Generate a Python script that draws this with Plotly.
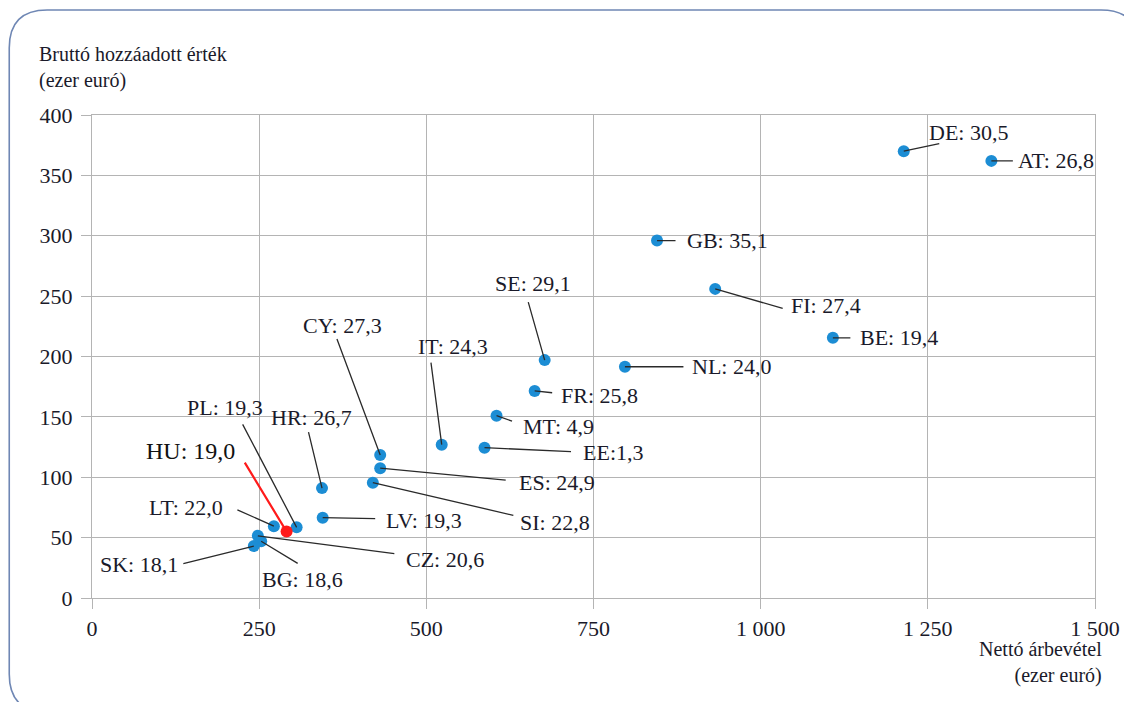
import plotly.graph_objects as go

# ---- data ----
countries = ["DE", "AT", "GB", "FI", "BE", "NL", "SE", "FR", "MT", "EE", "IT",
             "CY", "ES", "SI", "HR", "LV", "PL", "HU", "LT", "CZ", "BG", "SK"]
net_revenue = [1214, 1345, 845, 932, 1108, 797, 677, 662, 605, 587, 523,
               431, 431, 420, 344, 345, 306, 291, 272, 248, 253, 242]
gross_value_added = [370, 362, 296, 256, 215.5, 191.5, 197, 171.5, 151, 124.5, 127,
                     118.5, 107.5, 95.5, 91, 66.5, 58.5, 55, 59.5, 51.5, 47, 43]
label_texts = ["DE: 30,5", "AT: 26,8", "GB: 35,1", "FI: 27,4", "BE: 19,4", "NL: 24,0",
               "SE: 29,1", "FR: 25,8", "MT: 4,9", "EE:1,3", "IT: 24,3", "CY: 27,3",
               "ES: 24,9", "SI: 22,8", "HR: 26,7", "LV: 19,3", "PL: 19,3", "HU: 19,0",
               "LT: 22,0", "CZ: 20,6", "BG: 18,6", "SK: 18,1"]
highlight = "HU"

x_tickvals = [0, 250, 500, 750, 1000, 1250, 1500]
x_ticktext = ["0", "250", "500", "750", "1 000", "1 250", "1 500"]
y_tickvals = [0, 50, 100, 150, 200, 250, 300, 350, 400]

y_title = "Bruttó hozzáadott érték<br>(ezer euró)"
x_title = "Nettó árbevétel<br>(ezer euró)"

# ---- label layout (pixel offsets from point) ----
# (tail_dx, tail_dy, text_dx, text_dy, xanchor)
label_layout = {
    "DE": (37, -8, 65, -19, "center"),
    "AT": (23, 0, 25, 0, "left"),
    "GB": (20, 0, 28, 0, "left"),
    "FI": (69, 20, 74, 17, "left"),
    "BE": (19, 0, 25, 0, "left"),
    "NL": (60, 0, 65, 0, "left"),
    "SE": (-17, -60, -12, -77, "center"),
    "FR": (19, 2, 24, 5, "left"),
    "MT": (17, 6, 24, 11, "left"),
    "EE": (88, 4, 96, 5, "left"),
    "IT": (-11, -84, 11, -98, "center"),
    "CY": (-44, -118, -38, -129, "center"),
    "ES": (127, 12, 137, 14, "left"),
    "SI": (142, 33, 145, 40, "left"),
    "HR": (-14, -58, -11, -71, "center"),
    "LV": (54, 1, 61, 3, "left"),
    "PL": (-55, -105, -72, -120, "center"),
    "HU": (-43, -71, -96, -81, "center"),
    "LT": (-38, -17, -88, -19, "center"),
    "CZ": (138, 18, 146, 24, "left"),
    "BG": (38, 23, 41, 38, "center"),
    "SK": (-72, 18, -74, 18, "right"),
}

OFF = 8  # page body margin
W, H = 1132 - OFF, 702 - OFF
ML, MT_ = 92 - OFF, 115 - OFF
PW, PH = 1006, 483
MR, MB = W - ML - PW, H - MT_ - PH

FONT = "'Liberation Serif', 'DejaVu Serif', serif"
TXT = "#1a1a2a"
BLUE = "#1c8dd4"
RED = "#ff1a1a"
GRID = "#b4b4b4"

colors = [RED if c == highlight else BLUE for c in countries]

fig = go.Figure()
fig.add_trace(go.Scatter(
    x=net_revenue, y=gross_value_added, mode="markers",
    marker=dict(size=12, color=colors, line=dict(width=0)),
    hoverinfo="text", text=countries, showlegend=False, cliponaxis=False,
))

annotations = []
for c, xv, yv, t in zip(countries, net_revenue, gross_value_added, label_texts):
    tdx, tdy, lx, ly, anc = label_layout[c]
    is_hl = c == highlight
    annotations.append(dict(
        x=xv, y=yv, xref="x", yref="y", ax=tdx, ay=tdy, text=" ",
        font=dict(size=1), showarrow=True, arrowhead=0,
        arrowwidth=2.2 if is_hl else 1.3,
        arrowcolor=RED if is_hl else "#2a2a2a", standoff=0, startstandoff=0,
    ))
    annotations.append(dict(
        x=xv, y=yv, xref="x", yref="y", text=t, showarrow=False,
        xshift=lx, yshift=-ly, xanchor=anc, yanchor="middle",
        font=dict(family=FONT, size=24 if is_hl else 22,
                  color="#111111" if is_hl else TXT),
    ))


def pxp(x):
    """screen x pixel -> paper"""
    return (x - OFF - ML) / PW


def pyp(y):
    """screen y pixel -> paper"""
    return (MT_ + PH - (y - OFF)) / PH


annotations.append(dict(
    x=pxp(37), y=pyp(67), xref="paper", yref="paper", xanchor="left",
    yanchor="middle", align="left", showarrow=False, text=y_title,
    font=dict(family=FONT, size=20, color=TXT),
))
annotations.append(dict(
    x=pxp(1107), y=pyp(662), xref="paper", yref="paper", xanchor="right",
    yanchor="middle", align="right", showarrow=False, text=x_title,
    font=dict(family=FONT, size=20, color=TXT),
))

# rounded frame (screen pixel coords)
L, T, R, B, r = 9, 10, 1142, 712, 38
path = (
    f"M {pxp(L + r)} {pyp(T)} L {pxp(R - r)} {pyp(T)} "
    f"Q {pxp(R)} {pyp(T)} {pxp(R)} {pyp(T + r)} "
    f"L {pxp(R)} {pyp(B - r)} Q {pxp(R)} {pyp(B)} {pxp(R - r)} {pyp(B)} "
    f"L {pxp(L + r)} {pyp(B)} Q {pxp(L)} {pyp(B)} {pxp(L)} {pyp(B - r)} "
    f"L {pxp(L)} {pyp(T + r)} Q {pxp(L)} {pyp(T)} {pxp(L + r)} {pyp(T)} Z"
)

axis_common = dict(
    showgrid=True, gridcolor=GRID, gridwidth=1.4, zeroline=False,
    showline=True, mirror=True, linecolor=GRID, linewidth=1.4,
    ticks="outside", ticklen=10, tickcolor=GRID, tickwidth=1.4,
    tickfont=dict(family=FONT, size=22, color=TXT),
)

fig.update_layout(
    width=W, height=H,
    margin=dict(l=ML, r=MR, t=MT_, b=MB),
    paper_bgcolor="white", plot_bgcolor="white",
    font=dict(family=FONT, size=22, color=TXT),
    annotations=annotations,
    shapes=[dict(type="path", path=path, xref="paper", yref="paper",
                 line=dict(color="#6f87b4", width=1.6), layer="below")],
    xaxis=dict(range=[0, 1500], tickvals=x_tickvals, ticktext=x_ticktext,
               **axis_common),
    yaxis=dict(range=[0, 400], tickvals=y_tickvals, ticklabelstandoff=4,
               **axis_common),
)

fig.write_html("out.html")
